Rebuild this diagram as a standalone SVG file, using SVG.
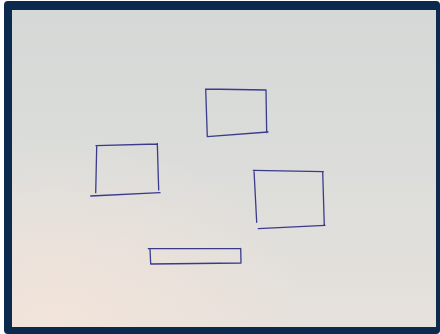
<svg xmlns="http://www.w3.org/2000/svg" width="440" height="334" viewBox="0 0 440 334">
<defs>
<linearGradient id="paper" x1="0" y1="0" x2="0" y2="1">
<stop offset="0" stop-color="#d4d8d6"/>
<stop offset="0.5" stop-color="#dcddda"/>
<stop offset="1" stop-color="#e6e1dc"/>
</linearGradient>
<radialGradient id="warm" cx="0.1" cy="1" r="0.6">
<stop offset="0" stop-color="#f3e4da" stop-opacity="0.9"/>
<stop offset="1" stop-color="#f3e4da" stop-opacity="0"/>
</radialGradient>
<style>
.ink{fill:none;stroke:#3b3b8c;stroke-width:1.3;stroke-linecap:round;stroke-linejoin:round}
</style>
</defs>
<rect x="0" y="0" width="440" height="334" fill="#ffffff"/>
<rect x="4" y="1" width="436" height="333" rx="4" fill="#0b2a4d"/>
<rect x="12" y="10" width="424" height="317" fill="url(#paper)"/>
<rect x="12" y="10" width="424" height="317" fill="url(#warm)"/>
<g id="rect-top">
<path class="ink" d="M205.7,89 L266,90 M205.7,89 L207.3,136.7 M207.3,136.7 L268,132 M266,90 L266.7,132.7"/>
</g>
<g id="rect-left">
<path class="ink" d="M96,145.7 L157.3,144 M96.7,146.7 L95.7,192.7 M157.3,143.3 L158.7,190 M90.7,196 L160,192.7"/>
</g>
<g id="rect-right">
<path class="ink" d="M253.3,170.3 L323.3,171.7 M254,170.3 L256.7,222.3 M322.7,171.7 L324.3,225.7 M258.3,228.7 L325,225.3"/>
</g>
<g id="rect-bottom">
<path class="ink" d="M148.3,248.7 L240.7,248.3 M150,249.3 L150.7,264 M150.7,264 L240.7,263 M240.7,248.3 L241,263"/>
</g>
</svg>
